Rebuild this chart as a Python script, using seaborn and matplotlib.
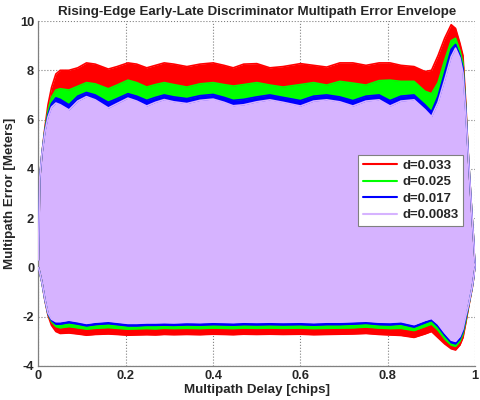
import numpy as np
import pandas as pd
import matplotlib
matplotlib.use("Agg")
import matplotlib.pyplot as plt
import seaborn as sns

# Multipath delay grid [chips]
delay = [0.0, 0.003, 0.008, 0.015, 0.022, 0.03, 0.04, 0.05, 0.07, 0.09, 0.11, 0.13,
         0.16, 0.18, 0.205, 0.225, 0.248, 0.268, 0.288, 0.31, 0.34, 0.37, 0.40, 0.425,
         0.446, 0.47, 0.5, 0.53, 0.56, 0.6, 0.63, 0.66, 0.69, 0.72, 0.75, 0.78, 0.805,
         0.83, 0.86, 0.885, 0.9, 0.915, 0.93, 0.945, 0.955, 0.965, 0.972, 0.978, 0.985,
         0.993, 1.0]

labels = ["d=0.033", "d=0.025", "d=0.017", "d=0.0083"]

upper_033 = [0.3, 3.6, 4.6, 5.7, 6.6, 7.3, 7.85, 8.0, 8.0, 8.1, 8.3, 8.25,
             8.05, 8.15, 8.3, 8.25, 8.1, 8.2, 8.3, 8.25, 8.15, 8.25, 8.3, 8.2,
             8.1, 8.25, 8.27, 8.1, 8.15, 8.27, 8.2, 8.13, 8.3, 8.3, 8.2, 8.3, 8.3,
             8.2, 8.15, 7.95, 8.0, 8.6, 9.3, 9.85, 9.7, 9.1, 8.6, 6.8, 4.3,
             2.0, 0.2]
lower_033 = [0.0, -0.2, -0.6, -1.35, -1.95, -2.35, -2.6, -2.68, -2.66, -2.7, -2.75, -2.72,
             -2.7, -2.72, -2.75, -2.74, -2.73, -2.74, -2.72, -2.73, -2.72, -2.73, -2.71, -2.72,
             -2.73, -2.71, -2.72, -2.71, -2.72, -2.71, -2.73, -2.72, -2.71, -2.7, -2.68, -2.72, -2.74,
             -2.76, -2.84, -2.7, -2.6, -2.85, -3.1, -3.3, -3.35, -3.15, -2.85, -2.3, -1.6,
             -0.85, 0.0]

upper_025 = [0.3, 3.6, 4.6, 5.6, 6.35, 6.9, 7.2, 7.25, 7.2, 7.35, 7.5, 7.45,
             7.25, 7.4, 7.6, 7.5, 7.32, 7.42, 7.5, 7.42, 7.32, 7.45, 7.5, 7.42,
             7.36, 7.42, 7.5, 7.4, 7.32, 7.42, 7.5, 7.4, 7.55, 7.48, 7.4, 7.58, 7.6,
             7.55, 7.55, 7.15, 7.05, 7.5, 8.4, 9.2, 9.3, 8.8, 8.3, 6.6, 4.3,
             2.0, 0.2]
lower_025 = [0.0, -0.2, -0.6, -1.32, -1.9, -2.2, -2.4, -2.45, -2.4, -2.45, -2.5, -2.47,
             -2.44, -2.47, -2.5, -2.49, -2.48, -2.49, -2.47, -2.48, -2.47, -2.48, -2.46, -2.47,
             -2.48, -2.46, -2.47, -2.46, -2.47, -2.46, -2.48, -2.47, -2.46, -2.45, -2.42, -2.46, -2.48,
             -2.47, -2.56, -2.4, -2.3, -2.55, -2.9, -3.15, -3.2, -3.0, -2.7, -2.2, -1.55,
             -0.82, 0.0]

upper_017 = [0.3, 3.6, 4.6, 5.55, 6.2, 6.65, 6.88, 6.82, 6.6, 6.95, 7.1, 7.0,
             6.7, 6.85, 7.05, 6.95, 6.78, 6.9, 7.0, 6.92, 6.85, 6.97, 7.02, 6.9,
             6.78, 6.82, 6.92, 7.0, 6.9, 6.77, 6.95, 7.0, 6.92, 6.77, 6.95, 7.0, 6.77,
             6.95, 7.0, 6.6, 6.32, 6.95, 7.9, 8.85, 9.05, 8.6, 8.1, 6.5, 4.3,
             2.0, 0.2]
lower_017 = [0.0, -0.2, -0.6, -1.31, -1.88, -2.15, -2.3, -2.3, -2.24, -2.3, -2.37, -2.32,
             -2.28, -2.32, -2.37, -2.37, -2.35, -2.35, -2.34, -2.35, -2.33, -2.34, -2.32, -2.33,
             -2.34, -2.32, -2.33, -2.32, -2.33, -2.32, -2.34, -2.32, -2.32, -2.3, -2.27, -2.32, -2.33,
             -2.3, -2.42, -2.25, -2.15, -2.4, -2.75, -3.05, -3.1, -2.9, -2.6, -2.1, -1.52,
             -0.81, 0.0]

upper_0083 = [0.3, 3.6, 4.6, 5.5, 6.1, 6.5, 6.67, 6.6, 6.39, 6.75, 6.93, 6.8,
              6.47, 6.65, 6.87, 6.75, 6.55, 6.7, 6.81, 6.72, 6.65, 6.78, 6.83, 6.7,
              6.56, 6.6, 6.72, 6.8, 6.7, 6.55, 6.75, 6.8, 6.72, 6.55, 6.75, 6.8, 6.55,
              6.75, 6.8, 6.4, 6.12, 6.7, 7.6, 8.55, 8.9, 8.5, 7.9, 6.4, 4.3,
              2.0, 0.2]
lower_0083 = [0.0, -0.2, -0.6, -1.3, -1.85, -2.1, -2.2, -2.2, -2.14, -2.2, -2.27, -2.22,
              -2.18, -2.22, -2.27, -2.27, -2.25, -2.25, -2.24, -2.25, -2.23, -2.24, -2.22, -2.23,
              -2.24, -2.22, -2.23, -2.22, -2.23, -2.22, -2.24, -2.22, -2.22, -2.2, -2.18, -2.22, -2.23,
              -2.2, -2.32, -2.15, -2.07, -2.3, -2.65, -2.95, -3.0, -2.8, -2.5, -2.0, -1.5,
              -0.8, 0.0]

uppers = [upper_033, upper_025, upper_017, upper_0083]
lowers = [lower_033, lower_025, lower_017, lower_0083]
colors = ["#FF0000", "#00FF00", "#0000FF", "#D6B3FF"]

sns.set_theme(style="white")
plt.rcParams["font.family"] = ["Liberation Sans", "DejaVu Sans"]
plt.rcParams["font.weight"] = "bold"

fig = plt.figure(figsize=(4.8, 4.0), dpi=100)
ax = fig.add_axes([0.08, 0.085, 0.91, 0.8625])

for lab, up, lo, c in zip(labels, uppers, lowers, colors):
    df = pd.DataFrame({"delay": delay, "upper": up, "lower": lo})
    ax.fill_between(df["delay"], df["lower"], df["upper"], color=c, linewidth=0, zorder=2)
    sns.lineplot(data=df, x="delay", y="upper", color=c, linewidth=1.2, ax=ax,
                 label=lab, zorder=3)
    sns.lineplot(data=df, x="delay", y="lower", color=c, linewidth=1.2, ax=ax,
                 zorder=3)

ax.set_xlim(0, 1)
ax.set_ylim(-4, 10)
ax.set_xticks([0, 0.2, 0.4, 0.6, 0.8, 1.0])
ax.set_xticklabels(["0", "0.2", "0.4", "0.6", "0.8", "1"])
ax.set_yticks([-4, -2, 0, 2, 4, 6, 8, 10])
ax.set_yticklabels(["-4", "-2", "0", "2", "4", "6", "8", "10"])

ax.grid(True, linestyle=":", color="#808080", linewidth=0.8, zorder=0)
ax.set_axisbelow(True)
for side in ["top", "right"]:
    ax.spines[side].set_visible(False)
for side in ["left", "bottom"]:
    ax.spines[side].set_color("#808080")
    ax.spines[side].set_linewidth(0.9)
ax.tick_params(axis="both", direction="in", length=3, color="#808080",
               labelsize=9.3, pad=3)
for t in ax.get_xticklabels() + ax.get_yticklabels():
    t.set_fontweight("bold")

ax.set_title("Rising-Edge Early-Late Discriminator Multipath Error Envelope",
             fontsize=9.6, fontweight="bold", pad=4)
ax.set_xlabel("Multipath Delay [chips]", fontsize=9.6, fontweight="bold", labelpad=1)
ax.set_ylabel("Multipath Error [Meters]", fontsize=9.6, fontweight="bold", labelpad=3)

leg = ax.legend(loc="upper left", bbox_to_anchor=(0.732, 0.612), frameon=True,
                fancybox=False, edgecolor="#808080", framealpha=1.0,
                borderaxespad=0.0,
                prop={"size": 9.5, "weight": "bold"}, handlelength=2.6,
                borderpad=0.35, labelspacing=0.33, handletextpad=0.4)
for line in leg.get_lines():
    line.set_linewidth(1.5)
leg.get_frame().set_linewidth(0.8)

fig.savefig("out.png", dpi=100)
